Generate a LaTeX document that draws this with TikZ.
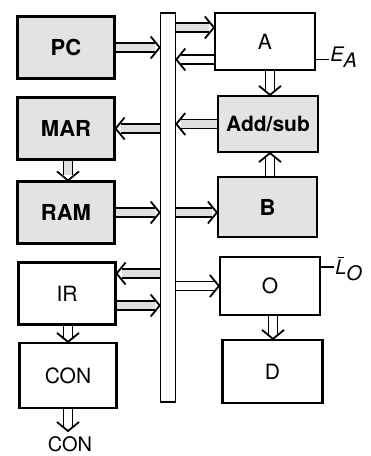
\documentclass[tikz,border=0pt]{standalone}
\usepackage{fontspec}
\setmainfont{TeX Gyre Heros}
\usepackage{amsmath}
\usetikzlibrary{decorations.markings}

\tikzset{
  unit/.style={draw, line width=2.2pt, minimum width=97pt, minimum height=62pt,
    inner sep=0pt, font=\fontsize{21}{24}\selectfont},
  shadedunit/.style={unit, fill=gray!22, font=\fontsize{22}{24}\selectfont\bfseries},
  wire/.style={line width=1.7pt, double distance=7.5pt, double=white, shorten >=5pt,
    postaction={decorate, decoration={markings, mark=at position 1 with
      {\draw[line width=1.8pt, shorten >=0pt, shorten <=0pt, line join=miter]
        (-9pt,11pt) -- (0,0) -- (-9pt,-11pt);}}}},
  shadedwire/.style={wire, double=gray!25},
  signal/.style={anchor=west, inner sep=1pt, font=\fontsize{20}{22}\selectfont\itshape},
}

\begin{document}
\begin{tikzpicture}[x=1pt,y=-1pt]
\useasboundingbox (0,0) rectangle (371,456);

%% el bus (W) %%%%%%%%%%%%%%%%%%%%%%%%%
\node[draw, line width=1.6pt, minimum width=15pt, minimum height=389pt, inner sep=0pt] (bus) at (168,207.5) {};

%% bloques de la izquierda %%%%%%%%%%%%
\node[shadedunit] (pc)  at (66,47.5)  {PC};
\node[shadedunit] (mar) at (66,128.5) {MAR};
\node[shadedunit] (ram) at (66,212.5) {RAM};
\node[unit]       (ir)  at (67,293.5) {IR};
\node[unit, minimum height=65pt] (con) at (68,375.5) {CON};

%% bloques de la derecha %%%%%%%%%%%%%%
\node[unit, minimum width=100pt, minimum height=57pt] (a) at (265,41.5) {A};
\node[shadedunit, minimum width=100pt, minimum height=56pt,
  font=\fontsize{21}{24}\selectfont\bfseries] (addsub) at (268,124) {Add/sub};
\node[shadedunit, minimum width=99pt, minimum height=60pt] (b) at (267.5,207) {B};
\node[unit, minimum width=100pt, minimum height=58pt] (o) at (270,286) {O};
\node[unit, minimum width=100pt, minimum height=63pt] (d) at (272.5,371.5) {D};

%% flechas al bus y del bus %%%%%%%%%%%
\draw[shadedwire] (pc.east) -- (pc.east -| bus.west);
\draw[shadedwire] (bus.west |- mar.east) -- (mar.east);
\draw[shadedwire] (ram.east) -- (ram.east -| bus.west);
\draw[shadedwire] ([yshift=20pt]bus.west |- ir.east) -- ([yshift=20pt]ir.east);
\draw[shadedwire] ([yshift=-12pt]ir.east) -- ([yshift=-12pt]ir.east -| bus.west);

\draw[shadedwire] ([yshift=14pt]bus.east |- a.west) -- ([yshift=14pt]a.west);
\draw[wire] ([yshift=-18pt]a.west) -- ([yshift=-18pt]a.west -| bus.east);
\draw[shadedwire] (addsub.west) -- (addsub.west -| bus.east);
\draw[shadedwire] (bus.east |- ram.east) -- (b.west |- ram.east);
\draw[wire] (bus.east |- o.west) -- (o.west);

%% flechas verticales %%%%%%%%%%%%%%%%%
\draw[wire] (a.south -| 270,0) -- (addsub.north -| 270,0);
\draw[wire] (b.north -| 270,0) -- (addsub.south -| 270,0);
\draw[wire] (o.south -| 273,0) -- (d.north -| 273,0);
\draw[shadedwire] (mar.south -| 68,0) -- (ram.north -| 68,0);
\draw[wire] (ir.south -| 68,0) -- (con.north -| 68,0);
\coordinate (out) at (68,431);
\draw[wire] (con.south -| out) -- (out);
\node[font=\fontsize{20}{22}\selectfont, inner sep=0pt] (conout) at (70,444) {CON};

%% senales de control %%%%%%%%%%%%%%%%%
\draw[line width=1.4pt] ([yshift=-18pt]a.east) -- ++(13,0) coordinate (ea);
\node[signal] (ealabel) at ([yshift=2pt]ea) {E\raisebox{-6pt}{A}};
\draw[line width=1.4pt] ([yshift=19pt]o.east) -- ++(13,0) coordinate (lo);
\node[signal] (lolabel) at ([yshift=-2pt]lo)
  {\makebox[0pt][l]{\hspace{3pt}\rule[16.5pt]{6pt}{1.2pt}}L\raisebox{-6pt}{O}};
\end{tikzpicture}
\end{document}
